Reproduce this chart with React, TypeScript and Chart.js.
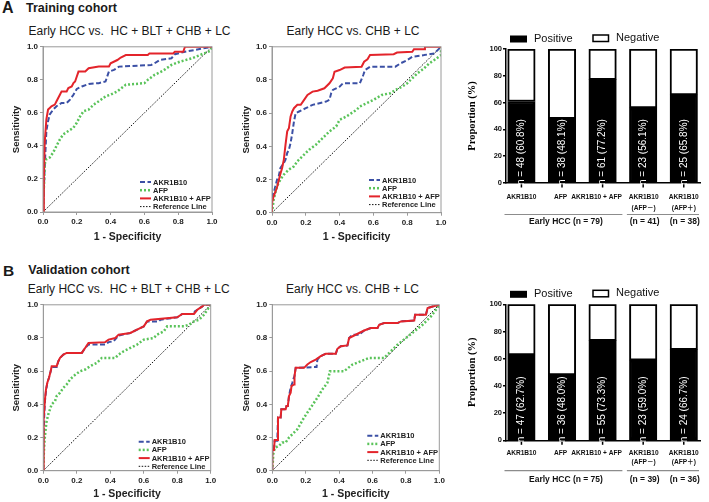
import React, { useEffect, useRef } from "react";
import { Chart, registerables } from "chart.js";
Chart.register(...registerables);

const SANS = "'Liberation Sans', Arial, Helvetica, 'Noto Sans CJK SC', sans-serif";
const SERIF = "'Liberation Serif', 'Times New Roman', serif";
const RED = "#e3242b";
const BLUE = "#3b50a5";
const GREEN = "#5ac35a";
const FRAME = "#9a9a9a";

type Pt = [number, number];

// ---------- ROC curves (1 - specificity, sensitivity) ----------
// Training cohort: Early HCC vs. HC + BLT + CHB + LC
const TRAIN_ALL_AKR1B10: Pt[] = [[0,0],[0.01,0.27],[0.02,0.49],[0.03,0.55],[0.04,0.59],[0.06,0.62],[0.08,0.64],[0.11,0.66],[0.14,0.66],[0.16,0.68],[0.18,0.71],[0.2,0.745],[0.23,0.76],[0.27,0.775],[0.33,0.78],[0.37,0.79],[0.38,0.82],[0.39,0.85],[0.42,0.86],[0.45,0.88],[0.64,0.89],[0.66,0.9],[0.69,0.92],[0.76,0.93],[0.78,0.955],[0.82,0.965],[0.84,0.97],[0.92,0.985],[1,1]];
const TRAIN_ALL_AFP: Pt[] = [[0,0],[0.002,0.08],[0.006,0.17],[0.01,0.29],[0.02,0.32],[0.04,0.33],[0.06,0.36],[0.08,0.4],[0.1,0.44],[0.12,0.47],[0.15,0.49],[0.18,0.51],[0.2,0.54],[0.22,0.58],[0.24,0.61],[0.27,0.62],[0.3,0.65],[0.33,0.67],[0.37,0.7],[0.4,0.71],[0.44,0.73],[0.49,0.77],[0.6,0.78],[0.62,0.8],[0.66,0.83],[0.71,0.855],[0.76,0.89],[0.81,0.91],[0.88,0.93],[0.94,0.955],[0.99,0.975],[1,1]];
const TRAIN_ALL_COMBINED: Pt[] = [[0,0],[0.005,0.2],[0.01,0.42],[0.02,0.56],[0.03,0.62],[0.04,0.63],[0.05,0.64],[0.07,0.65],[0.08,0.67],[0.09,0.69],[0.1,0.71],[0.11,0.73],[0.14,0.73],[0.15,0.75],[0.17,0.76],[0.18,0.78],[0.19,0.79],[0.2,0.82],[0.21,0.85],[0.25,0.85],[0.27,0.87],[0.33,0.88],[0.39,0.88],[0.4,0.9],[0.44,0.92],[0.46,0.935],[0.49,0.95],[0.62,0.95],[0.63,0.96],[0.77,0.96],[0.78,0.97],[0.83,0.97],[0.84,1],[1,1]];

// Training cohort: Early HCC vs. CHB + LC
const TRAIN_CL_AKR1B10: Pt[] = [[0,0],[0,0.1],[0.01,0.12],[0.02,0.16],[0.03,0.2],[0.04,0.22],[0.05,0.27],[0.07,0.3],[0.08,0.32],[0.09,0.36],[0.1,0.38],[0.11,0.42],[0.12,0.48],[0.13,0.55],[0.14,0.6],[0.16,0.61],[0.2,0.63],[0.24,0.65],[0.28,0.66],[0.32,0.67],[0.34,0.68],[0.35,0.72],[0.36,0.74],[0.4,0.76],[0.42,0.78],[0.52,0.78],[0.54,0.83],[0.55,0.86],[0.58,0.88],[0.73,0.88],[0.76,0.9],[0.8,0.92],[0.83,0.94],[0.9,0.95],[0.96,0.96],[1,1]];
const TRAIN_CL_AFP: Pt[] = [[0,0],[0.005,0.04],[0.01,0.08],[0.02,0.12],[0.03,0.16],[0.05,0.2],[0.07,0.23],[0.1,0.26],[0.13,0.28],[0.15,0.31],[0.18,0.34],[0.22,0.38],[0.26,0.41],[0.3,0.45],[0.34,0.49],[0.38,0.52],[0.4,0.56],[0.44,0.58],[0.47,0.6],[0.5,0.62],[0.52,0.64],[0.56,0.66],[0.6,0.68],[0.65,0.71],[0.7,0.72],[0.73,0.74],[0.77,0.76],[0.8,0.78],[0.82,0.8],[0.86,0.84],[0.9,0.87],[0.93,0.9],[0.96,0.92],[1,0.95],[1,1]];
const TRAIN_CL_COMBINED: Pt[] = [[0,0],[0,0.06],[0.01,0.1],[0.02,0.125],[0.03,0.155],[0.04,0.195],[0.05,0.235],[0.06,0.27],[0.07,0.32],[0.08,0.41],[0.09,0.49],[0.1,0.51],[0.11,0.58],[0.12,0.61],[0.13,0.63],[0.15,0.65],[0.17,0.65],[0.19,0.68],[0.21,0.71],[0.24,0.73],[0.27,0.735],[0.31,0.75],[0.34,0.78],[0.36,0.81],[0.37,0.85],[0.4,0.86],[0.43,0.875],[0.53,0.88],[0.545,0.91],[0.565,0.925],[0.58,0.95],[0.72,0.955],[0.74,0.965],[0.83,0.97],[0.84,0.985],[0.9,0.985],[0.905,1],[1,1]];

// Validation cohort: Early HCC vs. HC + BLT + CHB + LC
const VALID_ALL_AKR1B10: Pt[] = [[0,0],[0,0.13],[0.004,0.3],[0.01,0.42],[0.016,0.48],[0.024,0.53],[0.034,0.56],[0.044,0.6],[0.05,0.625],[0.08,0.625],[0.09,0.66],[0.1,0.68],[0.12,0.7],[0.14,0.71],[0.23,0.71],[0.25,0.74],[0.27,0.76],[0.37,0.76],[0.39,0.775],[0.42,0.78],[0.45,0.815],[0.52,0.83],[0.56,0.85],[0.6,0.87],[0.62,0.9],[0.69,0.9],[0.7,0.91],[0.8,0.925],[0.83,0.945],[0.9,0.945],[0.905,0.96],[0.92,0.97],[0.95,0.99],[0.96,1],[1,1]];
const VALID_ALL_AFP: Pt[] = [[0,0],[0.003,0.1],[0.006,0.16],[0.01,0.21],[0.015,0.26],[0.02,0.3],[0.03,0.34],[0.04,0.37],[0.05,0.4],[0.07,0.42],[0.08,0.45],[0.1,0.47],[0.12,0.5],[0.14,0.52],[0.16,0.55],[0.18,0.57],[0.2,0.585],[0.22,0.6],[0.25,0.61],[0.28,0.63],[0.32,0.65],[0.35,0.68],[0.43,0.68],[0.45,0.7],[0.48,0.72],[0.52,0.74],[0.56,0.76],[0.6,0.79],[0.66,0.8],[0.68,0.82],[0.72,0.84],[0.74,0.87],[0.84,0.87],[0.87,0.88],[0.9,0.9],[0.93,0.91],[0.96,0.94],[1,1]];
const VALID_ALL_COMBINED: Pt[] = [[0,0],[0,0.135],[0.004,0.31],[0.01,0.43],[0.016,0.49],[0.024,0.53],[0.034,0.56],[0.044,0.6],[0.05,0.63],[0.08,0.63],[0.09,0.66],[0.1,0.68],[0.12,0.7],[0.14,0.71],[0.23,0.71],[0.25,0.74],[0.27,0.77],[0.37,0.775],[0.39,0.79],[0.43,0.8],[0.45,0.82],[0.52,0.83],[0.56,0.85],[0.6,0.87],[0.62,0.9],[0.64,0.91],[0.8,0.925],[0.83,0.945],[0.9,0.945],[0.92,0.97],[0.95,0.99],[0.96,1],[1,1]];

// Validation cohort: Early HCC vs. CHB + LC
const VALID_CL_AKR1B10: Pt[] = [[0,0],[0,0.125],[0.01,0.125],[0.014,0.18],[0.03,0.18],[0.034,0.32],[0.05,0.32],[0.054,0.37],[0.08,0.37],[0.085,0.39],[0.093,0.39],[0.1,0.45],[0.11,0.5],[0.12,0.53],[0.125,0.55],[0.133,0.57],[0.14,0.62],[0.265,0.625],[0.27,0.67],[0.29,0.69],[0.32,0.705],[0.38,0.705],[0.39,0.735],[0.41,0.75],[0.45,0.755],[0.46,0.8],[0.48,0.82],[0.52,0.82],[0.55,0.845],[0.59,0.86],[0.63,0.86],[0.64,0.88],[0.67,0.89],[0.75,0.89],[0.77,0.9],[0.85,0.905],[0.855,0.94],[0.92,0.94],[0.93,0.98],[0.96,0.99],[1,1]];
const VALID_CL_AFP: Pt[] = [[0,0],[0.003,0.05],[0.006,0.1],[0.01,0.12],[0.02,0.14],[0.04,0.15],[0.06,0.17],[0.08,0.17],[0.1,0.2],[0.15,0.25],[0.19,0.32],[0.23,0.38],[0.27,0.44],[0.3,0.49],[0.33,0.53],[0.345,0.6],[0.43,0.6],[0.48,0.64],[0.58,0.68],[0.67,0.68],[0.7,0.71],[0.75,0.76],[0.8,0.8],[0.85,0.84],[0.9,0.88],[0.95,0.93],[0.98,0.97],[1,1]];
const VALID_CL_COMBINED: Pt[] = [[0,0],[0,0.125],[0.01,0.125],[0.014,0.185],[0.03,0.185],[0.034,0.32],[0.05,0.32],[0.054,0.37],[0.08,0.37],[0.085,0.39],[0.093,0.39],[0.1,0.45],[0.11,0.47],[0.115,0.51],[0.13,0.52],[0.133,0.57],[0.14,0.62],[0.19,0.62],[0.21,0.64],[0.23,0.655],[0.26,0.67],[0.29,0.69],[0.32,0.705],[0.38,0.705],[0.39,0.735],[0.41,0.75],[0.45,0.755],[0.46,0.8],[0.49,0.815],[0.52,0.83],[0.55,0.845],[0.59,0.86],[0.63,0.86],[0.64,0.88],[0.67,0.89],[0.75,0.89],[0.77,0.9],[0.85,0.905],[0.855,0.94],[0.92,0.94],[0.93,0.98],[0.96,0.99],[1,1]];

const REFERENCE_LINE: Pt[] = [[0, 0], [1, 1]];

// ---------- Positive rates ----------
const BAR_CATEGORIES: string[][] = [["AKR1B10"], ["AFP"], ["AKR1B10 + AFP"], ["AKR1B10", "(AFP\uFF0D)"], ["AKR1B10", "(AFP\uFF0B)"]];
const TRAIN_POSITIVE_N = [48, 38, 61, 23, 25];
const TRAIN_POSITIVE_PCT = [60.8, 48.1, 77.2, 56.1, 65.8];
const TRAIN_GROUPS = ["Early HCC (n = 79)", "(n = 41)", "(n = 38)"];
const VALID_POSITIVE_N = [47, 36, 55, 23, 24];
const VALID_POSITIVE_PCT = [62.7, 48.0, 73.3, 59.0, 66.7];
const VALID_GROUPS = ["Early HCC (n = 75)", "(n = 39)", "(n = 36)"];

type Box = { x: number; y: number; w: number; h: number };
type Area = { l: number; t: number; r: number; b: number };

function RocPanel(props: {
  box: Box; area: Area; akr: Pt[]; afp: Pt[]; combo: Pt[];
  legendOffset: number; yTitlePad: number; xTitlePad: number;
}) {
  const ref = useRef<HTMLCanvasElement>(null);
  useEffect(() => {
    const { box, area } = props;
    const yW = area.l - box.x;
    const padTop = area.t - box.y;
    const padRight = box.x + box.w - area.r;
    const xH = box.y + box.h - area.b;
    const toXY = (pts: Pt[]) => pts.map(([x, y]) => ({ x, y }));
    const tickFont = { family: SANS, size: 8, weight: "bold" as const };
    const extras = {
      id: "rocExtras",
      afterDraw(chart: any) {
        const { ctx, chartArea } = chart;
        const { left, top, right, bottom } = chartArea;
        ctx.save();
        ctx.strokeStyle = FRAME;
        ctx.lineWidth = 1;
        ctx.setLineDash([]);
        ctx.strokeRect(left, top, right - left, bottom - top);
        chart.data.datasets.forEach((ds: any, i: number) => {
          const y = bottom - props.legendOffset + i * 8.2;
          ctx.beginPath();
          ctx.setLineDash(ds.borderDash || []);
          ctx.strokeStyle = ds.borderColor;
          ctx.lineWidth = ds.borderWidth;
          ctx.moveTo(right - 72, y);
          ctx.lineTo(right - 61, y);
          ctx.stroke();
          ctx.setLineDash([]);
          ctx.fillStyle = "#222";
          ctx.font = `bold 7.5px ${SANS}`;
          ctx.textAlign = "left";
          ctx.textBaseline = "middle";
          ctx.fillText(ds.label, right - 59, y + 0.5);
        });
        ctx.restore();
      },
    };
    const chart = new Chart(ref.current as HTMLCanvasElement, {
      type: "line",
      data: {
        datasets: [
          { label: "AKR1B10", data: toXY(props.akr), borderColor: BLUE, borderWidth: 2, borderDash: [5, 2.5], order: 2 },
          { label: "AFP", data: toXY(props.afp), borderColor: GREEN, borderWidth: 2.5, borderDash: [2, 2], order: 1 },
          { label: "AKR1B10 + AFP", data: toXY(props.combo), borderColor: RED, borderWidth: 2, order: 0 },
          { label: "Reference Line", data: toXY(REFERENCE_LINE), borderColor: "#111", borderWidth: 1, borderDash: [1.5, 1.5], order: 3 },
        ] as any,
      },
      options: {
        responsive: false,
        animation: false,
        devicePixelRatio: 1,
        elements: { point: { radius: 0 }, line: { tension: 0, fill: false } },
        layout: { padding: { top: padTop, right: padRight, left: 0, bottom: 0 } },
        plugins: { legend: { display: false }, tooltip: { enabled: false } },
        scales: {
          x: {
            type: "linear", min: 0, max: 1,
            afterFit: (s: any) => { s.height = xH; },
            ticks: { stepSize: 0.2, callback: (v: any) => Number(v).toFixed(1), font: tickFont, color: "#222", padding: 2, maxRotation: 0, autoSkip: false },
            grid: { display: true, drawOnChartArea: false, tickLength: 3, color: FRAME },
            border: { color: FRAME, width: 1 },
            title: { display: true, text: "1 - Specificity", color: "#222", font: { family: SANS, size: 10.5, weight: "bold" }, padding: { top: 0, bottom: props.xTitlePad } },
          },
          y: {
            type: "linear", min: 0, max: 1,
            afterFit: (s: any) => { s.width = yW; },
            ticks: { stepSize: 0.2, callback: (v: any) => Number(v).toFixed(1), font: tickFont, color: "#222", padding: 2 },
            grid: { display: true, drawOnChartArea: false, tickLength: 3, color: FRAME },
            border: { color: FRAME, width: 1 },
            title: { display: true, text: "Sensitivity", color: "#222", font: { family: SANS, size: 9.5, weight: "bold" }, padding: { top: props.yTitlePad, bottom: 0 } },
          },
        },
      } as any,
      plugins: [extras],
    });
    return () => chart.destroy();
  }, []);
  const { box } = props;
  return <canvas ref={ref} width={box.w} height={box.h} style={{ position: "absolute", left: box.x, top: box.y, width: box.w, height: box.h }} />;
}

function BarPanel(props: {
  box: Box; area: Area; pct: number[]; n: number[]; groups: string[];
  rows: number[]; underline: number; groupRow: number;
}) {
  const ref = useRef<HTMLCanvasElement>(null);
  useEffect(() => {
    const { box, area, pct, n, groups } = props;
    const yW = area.l - box.x;
    const padTop = area.t - box.y;
    const padRight = box.x + box.w - area.r;
    const xH = box.y + box.h - area.b;
    const labelShift = [0, -1.5, -6, 0.5, 0];
    const extras = {
      id: "barExtras",
      afterDraw(chart: any) {
        const { ctx, chartArea } = chart;
        const { left, top, right, bottom } = chartArea;
        const xs = chart.scales.x;
        const px = (i: number) => xs.getPixelForValue(i);
        ctx.save();
        // x tick marks
        ctx.strokeStyle = "#000";
        ctx.lineWidth = 1.5;
        pct.forEach((_: number, i: number) => {
          ctx.beginPath();
          ctx.moveTo(px(i), bottom);
          ctx.lineTo(px(i), bottom + 4.5);
          ctx.stroke();
        });
        // rotated labels inside bars
        ctx.fillStyle = "#fff";
        ctx.font = `10px ${SANS}`;
        ctx.textAlign = "left";
        ctx.textBaseline = "middle";
        pct.forEach((p: number, i: number) => {
          ctx.save();
          ctx.translate(px(i), bottom + 2);
          ctx.rotate(-Math.PI / 2);
          ctx.fillText(`n = ${n[i]} (${p.toFixed(1)}%)`, 0, 0);
          ctx.restore();
        });
        // category labels
        ctx.fillStyle = "#111";
        ctx.font = `bold 6.6px ${SANS}`;
        ctx.textAlign = "center";
        BAR_CATEGORIES.forEach((lines, i) => {
          lines.forEach((t, j) => ctx.fillText(t, px(i) + labelShift[i], bottom + props.rows[j]));
        });
        // group underlines
        const mid = (px(2) + px(3)) / 2;
        ctx.strokeStyle = "#8c8c8c";
        ctx.lineWidth = 1.2;
        ctx.beginPath();
        ctx.moveTo(left - 1.5, bottom + props.underline);
        ctx.lineTo(mid - 0.5, bottom + props.underline);
        ctx.moveTo(mid + 4, bottom + props.underline);
        ctx.lineTo(right - 1, bottom + props.underline);
        ctx.stroke();
        ctx.fillStyle = "#111";
        ctx.font = `bold 8.5px ${SANS}`;
        ctx.fillText(groups[0], (left + mid) / 2 + 1.5, bottom + props.groupRow);
        ctx.fillText(groups[1], px(3) + 1.5, bottom + props.groupRow);
        ctx.fillText(groups[2], px(4) + 1, bottom + props.groupRow);
        // legend
        const ly = top - 10;
        const ds = chart.data.datasets;
        ctx.fillStyle = "#000";
        ctx.fillRect(left + 4, ly - 3.5, 17, 7);
        ctx.font = `11px ${SANS}`;
        ctx.textAlign = "left";
        ctx.fillStyle = "#111";
        ctx.fillText(ds[0].label, left + 28, ly);
        ctx.strokeStyle = "#000";
        ctx.lineWidth = 1.5;
        ctx.strokeRect(left + 87, ly - 4, 15.5, 6.5);
        ctx.fillText(ds[1].label, left + 110, ly - 1);
        ctx.restore();
      },
    };
    const chart = new Chart(ref.current as HTMLCanvasElement, {
      type: "bar",
      data: {
        datasets: [
          { label: "Positive", data: pct.map((v, i) => ({ x: i, y: v })), backgroundColor: "#000", borderColor: "#000", borderWidth: 2, borderSkipped: false, barThickness: 27.5 },
          { label: "Negative", data: pct.map((v, i) => ({ x: i, y: 100 - v })), backgroundColor: "#fff", borderColor: "#000", borderWidth: 2, borderSkipped: false, barThickness: 27.5 },
        ] as any,
      },
      options: {
        responsive: false,
        animation: false,
        devicePixelRatio: 1,
        layout: { padding: { top: padTop, right: padRight, left: 0, bottom: 0 } },
        plugins: { legend: { display: false }, tooltip: { enabled: false } },
        scales: {
          x: {
            type: "linear", min: -0.38, max: 4.4, stacked: true, offset: false,
            afterFit: (s: any) => { s.height = xH; },
            ticks: { display: false },
            grid: { display: false },
            border: { display: true, color: "#000", width: 1.5 },
          },
          y: {
            stacked: true, min: 0, max: 100,
            afterFit: (s: any) => { s.width = yW; },
            ticks: { stepSize: 20, font: { family: SANS, size: 7.5, weight: "bold" }, color: "#111", padding: 1 },
            grid: { display: true, drawOnChartArea: false, tickLength: 3, color: "#000", lineWidth: 1.5 },
            border: { color: "#000", width: 1.5 },
            title: { display: true, text: "Proportion (%)", color: "#000", font: { family: SERIF, size: 10.5, weight: "bold" }, padding: { top: 6, bottom: 0 } },
          },
        },
      } as any,
      plugins: [extras],
    });
    return () => chart.destroy();
  }, []);
  const { box } = props;
  return <canvas ref={ref} width={box.w} height={box.h} style={{ position: "absolute", left: box.x, top: box.y, width: box.w, height: box.h }} />;
}

const txt = (left: number, top: number, size: number, bold: boolean, text: string, center = false) => (
  <div
    style={{
      position: "absolute", left, top, fontSize: size, lineHeight: `${size}px`,
      fontWeight: bold ? "bold" : "normal", fontFamily: SANS, color: "#1a1a1a",
      whiteSpace: "pre", transform: center ? "translateX(-50%)" : undefined,
    }}
  >
    {text}
  </div>
);

export default function App() {
  return (
    <div style={{ position: "absolute", left: 0, top: 0, width: 709, height: 502, background: "#fff", overflow: "hidden" }}>
      {txt(2, -0.5, 16, true, "A")}
      {txt(26, 1.5, 12.5, true, "Training cohort")}
      {txt(129.5, 25.3, 12, false, "Early HCC vs.  HC + BLT + CHB + LC", true)}
      {txt(353, 25, 12, false, "Early HCC vs. CHB + LC", true)}
      {txt(3, 262.8, 15.5, true, "B")}
      {txt(28.3, 264.3, 12.5, true, "Validation cohort")}
      {txt(128.7, 283.2, 12, false, "Early HCC vs.  HC + BLT + CHB + LC", true)}
      {txt(352.5, 283, 12, false, "Early HCC vs. CHB + LC", true)}

      <RocPanel box={{ x: 0, y: 40, w: 222, h: 210 }} area={{ l: 43, t: 44.3, r: 212, b: 212 }}
        akr={TRAIN_ALL_AKR1B10} afp={TRAIN_ALL_AFP} combo={TRAIN_ALL_COMBINED}
        legendOffset={30} yTitlePad={11} xTitlePad={6.7} />
      <RocPanel box={{ x: 228, y: 40, w: 222, h: 210 }} area={{ l: 272, t: 44.3, r: 441, b: 212.7 }}
        akr={TRAIN_CL_AKR1B10} afp={TRAIN_CL_AFP} combo={TRAIN_CL_COMBINED}
        legendOffset={32.7} yTitlePad={13} xTitlePad={6.7} />
      <RocPanel box={{ x: 0, y: 298, w: 222, h: 204 }} area={{ l: 43.3, t: 302.7, r: 210.7, b: 470.7 }}
        akr={VALID_ALL_AKR1B10} afp={VALID_ALL_AFP} combo={VALID_ALL_COMBINED}
        legendOffset={29} yTitlePad={11} xTitlePad={1.7} />
      <RocPanel box={{ x: 228, y: 298, w: 222, h: 204 }} area={{ l: 272.3, t: 303.3, r: 439.3, b: 470.7 }}
        akr={VALID_CL_AKR1B10} afp={VALID_CL_AFP} combo={VALID_CL_COMBINED}
        legendOffset={35} yTitlePad={13} xTitlePad={1.7} />

      <BarPanel box={{ x: 460, y: 20, w: 249, h: 215 }} area={{ l: 506, t: 49, r: 700, b: 183 }}
        pct={TRAIN_POSITIVE_PCT} n={TRAIN_POSITIVE_N} groups={TRAIN_GROUPS}
        rows={[14.5, 25]} underline={31.5} groupRow={38.5} />
      <BarPanel box={{ x: 460, y: 278, w: 249, h: 224 }} area={{ l: 506, t: 304.3, r: 700, b: 440.3 }}
        pct={VALID_POSITIVE_PCT} n={VALID_POSITIVE_N} groups={VALID_GROUPS}
        rows={[12.5, 21.5]} underline={30.4} groupRow={39} />
    </div>
  );
}
